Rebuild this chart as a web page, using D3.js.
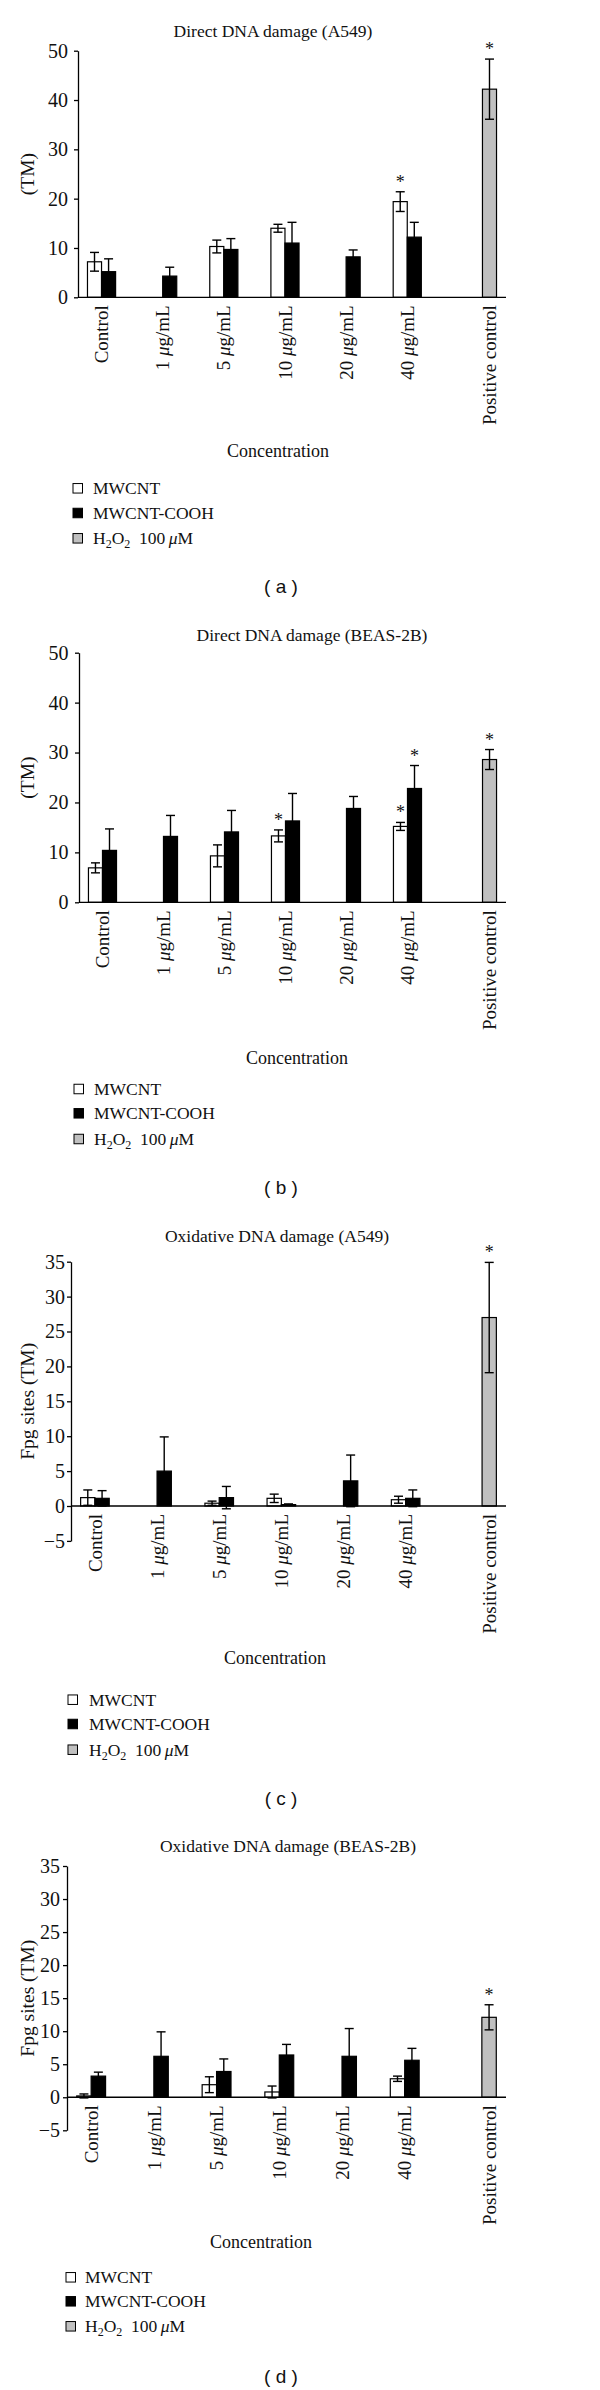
<!DOCTYPE html>
<html>
<head>
<meta charset="utf-8">
<script src="https://cdn.jsdelivr.net/npm/d3@7"></script>
<style>
  html, body { margin: 0; padding: 0; background: #fff; }
  svg { display: block; }
  text { font-family: "Liberation Serif", "Times New Roman", serif; fill: #111; }
</style>
</head>
<body>
<svg id="chart" width="600" height="2390"></svg>
<script>
// ---------------- DATA ----------------
const categories = ["Control", "1 μg/mL", "5 μg/mL", "10 μg/mL", "20 μg/mL", "40 μg/mL", "Positive control"];
const seriesKeys = ["MWCNT", "MWCNT-COOH", "H2O2"];
const yTicksDirect = [0, 10, 20, 30, 40, 50];
const yTicksOxidative = [-5, 0, 5, 10, 15, 20, 25, 30, 35];

// (a) Direct DNA damage (A549)
const aMwcnt      = [7.2, 0, 10.3, 14.0, 0, 19.4, 0];
const aMwcntErr   = [1.9, 0, 1.3, 0.8, 0, 2.0, 0];
const aCooh       = [5.2, 4.3, 9.7, 11.0, 8.2, 12.2, 0];
const aCoohErr    = [2.6, 1.8, 2.2, 4.2, 1.4, 3.0, 0];
const aH2o2       = [0, 0, 0, 0, 0, 0, 42.2];
const aH2o2Err    = [0, 0, 0, 0, 0, 0, 6.1];
const aStars      = [["MWCNT", 5], ["H2O2", 6]];

// (b) Direct DNA damage (BEAS-2B)
const bMwcnt      = [6.9, 0, 9.3, 13.3, 0, 15.2, 0];
const bMwcntErr   = [1.0, 0, 2.2, 1.2, 0, 0.8, 0];
const bCooh       = [10.4, 13.2, 14.1, 16.3, 18.8, 22.8, 0];
const bCoohErr    = [4.3, 4.2, 4.3, 5.5, 2.4, 4.6, 0];
const bH2o2       = [0, 0, 0, 0, 0, 0, 28.6];
const bH2o2Err    = [0, 0, 0, 0, 0, 0, 2.0];
const bStars      = [["MWCNT", 3], ["MWCNT", 5], ["MWCNT-COOH", 5], ["H2O2", 6]];

// (c) Oxidative DNA damage (A549)
const cMwcnt      = [1.2, 0, 0.4, 1.1, 0, 0.9, 0];
const cMwcntErr   = [1.1, 0, 0.3, 0.6, 0, 0.5, 0];
const cCooh       = [1.1, 5.0, 1.2, 0.2, 3.6, 1.1, 0];
const cCoohErr    = [1.1, 4.9, 1.6, 0.1, 3.7, 1.2, 0];
const cH2o2       = [0, 0, 0, 0, 0, 0, 27.0];
const cH2o2Err    = [0, 0, 0, 0, 0, 0, 7.9];
const cStars      = [["H2O2", 6]];

// (d) Oxidative DNA damage (BEAS-2B)
const dMwcnt      = [0.2, 0, 1.9, 0.8, 0, 2.8, 0];
const dMwcntErr   = [0.3, 0, 1.2, 0.9, 0, 0.4, 0];
const dCooh       = [3.2, 6.2, 3.9, 6.4, 6.2, 5.6, 0];
const dCoohErr    = [0.6, 3.7, 1.9, 1.6, 4.2, 1.8, 0];
const dH2o2       = [0, 0, 0, 0, 0, 0, 12.1];
const dH2o2Err    = [0, 0, 0, 0, 0, 0, 1.9];
const dStars      = [["H2O2", 6]];

// ---------------- LAYOUT ----------------
const fills = { "MWCNT": "#ffffff", "MWCNT-COOH": "#000000", "H2O2": "#c0c0c0" };

const panels = [
  { title: "Direct DNA damage (A549)", tag: "a", ylabel: "(TM)",
    vals: [aMwcnt, aCooh, aH2o2], errs: [aMwcntErr, aCoohErr, aH2o2Err], stars: aStars,
    domain: [0, 50], ticks: yTicksDirect,
    titleX: 273, titleY: 37, axisX: 78, yRange: [297.3, 50.7], tickPad: 6,
    concX: 278, concY: 456.7, legX: 73, legTextX: 93, legY: [494.3, 519, 544.3], tagY: 593 },
  { title: "Direct DNA damage (BEAS-2B)", tag: "b", ylabel: "(TM)",
    vals: [bMwcnt, bCooh, bH2o2], errs: [bMwcntErr, bCoohErr, bH2o2Err], stars: bStars,
    domain: [0, 50], ticks: yTicksDirect,
    titleX: 312, titleY: 641, axisX: 79, yRange: [902.3, 652.7], tickPad: 6.5,
    concX: 297, concY: 1064.3, legX: 74, legTextX: 94, legY: [1095, 1119.3, 1145], tagY: 1194 },
  { title: "Oxidative DNA damage (A549)", tag: "c", ylabel: "Fpg sites (TM)",
    vals: [cMwcnt, cCooh, cH2o2], errs: [cMwcntErr, cCoohErr, cH2o2Err], stars: cStars,
    domain: [-5, 35], ticks: yTicksOxidative,
    titleX: 277, titleY: 1242, axisX: 71, yRange: [1540.9, 1261.7], tickPad: 2,
    concX: 275, concY: 1664.3, legX: 68, legTextX: 89, legY: [1705.7, 1730, 1755.7], tagY: 1805 },
  { title: "Oxidative DNA damage (BEAS-2B)", tag: "d", ylabel: "Fpg sites (TM)",
    vals: [dMwcnt, dCooh, dH2o2], errs: [dMwcntErr, dCoohErr, dH2o2Err], stars: dStars,
    domain: [-5, 35], ticks: yTicksOxidative,
    titleX: 288, titleY: 1852, axisX: 67, yRange: [2130.3, 1866], tickPad: 3,
    concX: 261, concY: 2247.7, legX: 66, legTextX: 85, legY: [2283.3, 2307.3, 2332.3], tagY: 2382.7 }
];

const svg = d3.select("#chart");
const xRight = 506;

function addMuText(sel, label) {
  const parts = label.split("μ");
  sel.append("tspan").text(parts[0]);
  for (let i = 1; i < parts.length; i++) {
    sel.append("tspan").attr("font-style", "italic").text("μ");
    sel.append("tspan").text(parts[i]);
  }
}

panels.forEach(p => {
  const g = svg.append("g");

  const x0 = d3.scaleBand().domain(categories).range([p.axisX, xRight])
    .paddingInner(0.31).paddingOuter(0.155);
  const x1 = d3.scaleBand().domain(seriesKeys).range([0, x0.bandwidth()]);
  const y = d3.scaleLinear().domain(p.domain).range(p.yRange);

  g.append("text").attr("x", p.titleX).attr("y", p.titleY)
    .attr("text-anchor", "middle").attr("font-size", 17.5).text(p.title);

  const rows = [];
  seriesKeys.forEach((k, si) => {
    categories.forEach((c, ci) => {
      rows.push({ key: k, cat: c, ci, v: p.vals[si][ci], e: p.errs[si][ci] });
    });
  });
  const drawn = rows.filter(d => d.v !== 0 || d.e !== 0);

  g.selectAll("rect.bar").data(drawn).join("rect")
    .attr("class", "bar")
    .attr("x", d => x0(d.cat) + x1(d.key))
    .attr("width", x1.bandwidth())
    .attr("y", d => Math.min(y(d.v), y(0)))
    .attr("height", d => Math.abs(y(0) - y(d.v)))
    .attr("fill", d => fills[d.key])
    .attr("stroke", "#000").attr("stroke-width", 1.2);

  const capW = 4.5;
  const cxOf = d => x0(d.cat) + x1(d.key) + x1.bandwidth() / 2;
  const eb = g.selectAll("g.err").data(drawn.filter(d => d.e > 0)).join("g").attr("class", "err")
    .attr("stroke", "#000").attr("stroke-width", 1.4).attr("fill", "none");
  eb.append("line").attr("x1", cxOf).attr("x2", cxOf)
    .attr("y1", d => y(d.v - d.e)).attr("y2", d => y(d.v + d.e));
  eb.append("line").attr("x1", d => cxOf(d) - capW).attr("x2", d => cxOf(d) + capW)
    .attr("y1", d => y(d.v + d.e)).attr("y2", d => y(d.v + d.e));
  eb.append("line").attr("x1", d => cxOf(d) - capW).attr("x2", d => cxOf(d) + capW)
    .attr("y1", d => y(d.v - d.e)).attr("y2", d => y(d.v - d.e));

  g.selectAll("text.star").data(p.stars).join("text").attr("class", "star")
    .attr("x", d => x0(categories[d[1]]) + x1(d[0]) + x1.bandwidth() / 2)
    .attr("y", d => {
      const si = seriesKeys.indexOf(d[0]);
      return y(p.vals[si][d[1]] + p.errs[si][d[1]]) - 4;
    })
    .attr("text-anchor", "middle").attr("font-size", 18).text("*");

  g.append("line").attr("x1", p.axisX).attr("x2", xRight)
    .attr("y1", y(0)).attr("y2", y(0))
    .attr("stroke", "#000").attr("stroke-width", 1.3);

  const ya = g.append("g").attr("transform", `translate(${p.axisX},0)`)
    .call(d3.axisLeft(y).tickValues(p.ticks).tickSize(4).tickSizeOuter(0).tickPadding(p.tickPad));
  ya.select(".domain").attr("stroke", "#000").attr("stroke-width", 1.3);
  ya.selectAll(".tick line").attr("stroke", "#000").attr("stroke-width", 1.3);
  ya.selectAll(".tick text").attr("font-family", "Liberation Serif, Times New Roman, serif")
    .attr("font-size", 20).attr("fill", "#111");

  const yMid = (p.yRange[0] + p.yRange[1]) / 2;
  g.append("text").attr("transform", `translate(27,${yMid}) rotate(-90)`)
    .attr("text-anchor", "middle").attr("dy", "0.35em").attr("font-size", 19.5).text(p.ylabel);

  categories.forEach((c, ci) => {
    const positiveOnly = p.vals[2][ci] !== 0;
    const cx = positiveOnly
      ? x0(c) + x1("H2O2") + x1.bandwidth() / 2
      : x0(c) + x1("MWCNT-COOH");
    const t = g.append("text")
      .attr("transform", `translate(${cx},${y(0) + 8}) rotate(-90)`)
      .attr("text-anchor", "end").attr("dy", "0.35em").attr("font-size", 19);
    addMuText(t, c);
  });

  g.append("text").attr("x", p.concX).attr("y", p.concY)
    .attr("text-anchor", "middle").attr("font-size", 18).text("Concentration");

  const sq = 9.5;
  seriesKeys.forEach((k, i) => {
    g.append("rect").attr("x", p.legX).attr("y", p.legY[i] - 6 - sq / 2)
      .attr("width", sq).attr("height", sq)
      .attr("fill", fills[k]).attr("stroke", "#000").attr("stroke-width", 1);
    const t = g.append("text").attr("x", p.legTextX).attr("y", p.legY[i]).attr("font-size", 17.5);
    if (k === "H2O2") {
      t.append("tspan").text("H");
      t.append("tspan").attr("font-size", 12).attr("dy", 4).text("2");
      t.append("tspan").attr("dy", -4).text("O");
      t.append("tspan").attr("font-size", 12).attr("dy", 4).text("2");
      t.append("tspan").attr("dy", -4).text("\u00a0 100\u2009");
      t.append("tspan").attr("font-style", "italic").text("μ");
      t.append("tspan").text("M");
    } else {
      t.text(k);
    }
  });

  g.append("text").attr("x", 281).attr("y", p.tagY).attr("text-anchor", "middle")
    .attr("font-size", 19)
    .style("font-family", "Liberation Sans, Arial, sans-serif")
    .text(`( ${p.tag} )`);
});
</script>
</body>
</html>
